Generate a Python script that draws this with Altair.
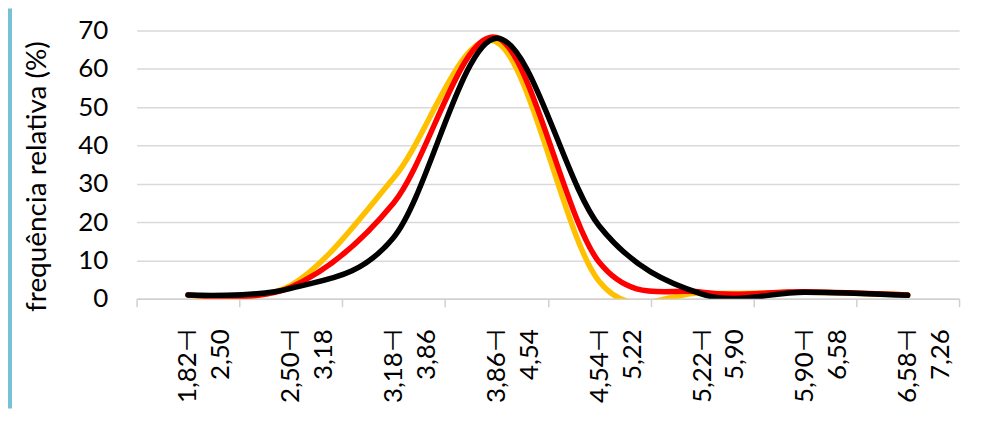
import altair as alt
import pandas as pd

# ---- data ----
categories = ["1,82 ⊣ 2,50", "2,50 ⊣ 3,18", "3,18 ⊣ 3,86", "3,86 ⊣ 4,54",
              "4,54 ⊣ 5,22", "5,22 ⊣ 5,90", "5,90 ⊣ 6,58", "6,58 ⊣ 7,26"]
serie_amarela = [1.0, 3.5, 31.5, 67.0, 4.5, 1.5, 1.7, 1.0]
serie_vermelha = [1.0, 3.0, 25.0, 68.2, 9.5, 1.7, 1.8, 1.0]
serie_preta = [1.0, 2.7, 16.0, 68.0, 19.0, 1.2, 1.7, 0.9]
series_names = ["Série 1", "Série 2", "Série 3"]
series_colors = ["#FFC000", "#FF0000", "#000000"]
y_ticks = [0, 10, 20, 30, 40, 50, 60, 70]

rows = []
for name, vals in zip(series_names, [serie_amarela, serie_vermelha, serie_preta]):
    for i, (c, v) in enumerate(zip(categories, vals)):
        rows.append({"serie": name, "intervalo": c, "ordem": i, "valor": v})
df = pd.DataFrame(rows)

FONT = "Lato"
W, H = 825, 269
PAD = {"left": 129, "top": 22, "right": 20, "bottom": 110}

x_enc = alt.X(
    "intervalo:N",
    sort=categories,
    scale=alt.Scale(type="band", paddingInner=0, paddingOuter=0),
    axis=alt.Axis(
        title=None,
        labelAngle=270,
        labelExpr=("indexof(datum.label + '', ' ') < 0 ? '' : "
                   "[split(datum.label, ' ')[0] + split(datum.label, ' ')[1], "
                   "split(datum.label, ' ')[2]]"),
        labelFont=FONT,
        labelFontSize=26,
        labelLineHeight=33,
        labelColor="#000000",
        labelPadding=22,
        tickBand="extent",
        tickSize=8,
        tickColor="#d0d0d0",
        tickWidth=1.5,
        domainColor="#d0d0d0",
        domainWidth=1.5,
        grid=False,
    ),
)

y_enc = alt.Y(
    "valor:Q",
    scale=alt.Scale(domain=[0, 70], nice=False),
    axis=alt.Axis(
        values=y_ticks,
        title="frequência relativa (%)",
        titleFont=FONT,
        titleFontSize=28,
        titleFontWeight="normal",
        titleColor="#000000",
        titleAngle=270,
        titleX=-99,
        titleY=146,
        titleAlign="center",
        titleBaseline="middle",
        labelFont=FONT,
        labelFontSize=26,
        labelColor="#000000",
        labelPadding=29,
        ticks=False,
        tickSize=0,
        domain=False,
        grid=True,
        gridColor="#d9d9d9",
        gridWidth=1.5,
    ),
)

strip = alt.Chart(pd.DataFrame({"k": [0]})).mark_rect(color="#78c0d6").encode(
    x=alt.value(-PAD["left"]), x2=alt.value(-PAD["left"] + 4),
    y=alt.value(-PAD["top"]), y2=alt.value(H + PAD["bottom"]),
)

layers = [strip]
for name, color in zip(series_names, series_colors):
    layers.append(
        alt.Chart(df)
        .transform_filter(alt.datum.serie == name)
        .mark_line(color=color, strokeWidth=5.5, interpolate="cardinal", tension=0,
                   clip=True, strokeCap="round", strokeJoin="round")
        .encode(x=x_enc, y=y_enc, order=alt.Order("ordem:Q"))
    )

chart = (
    alt.layer(*layers)
    .properties(width=W, height=H, padding=PAD,
                autosize=alt.AutoSizeParams(type="none"))
    .configure(background="white")
    .configure_view(stroke=None)
)

chart.save("out.html", embed_options={"renderer": "svg", "actions": False})
